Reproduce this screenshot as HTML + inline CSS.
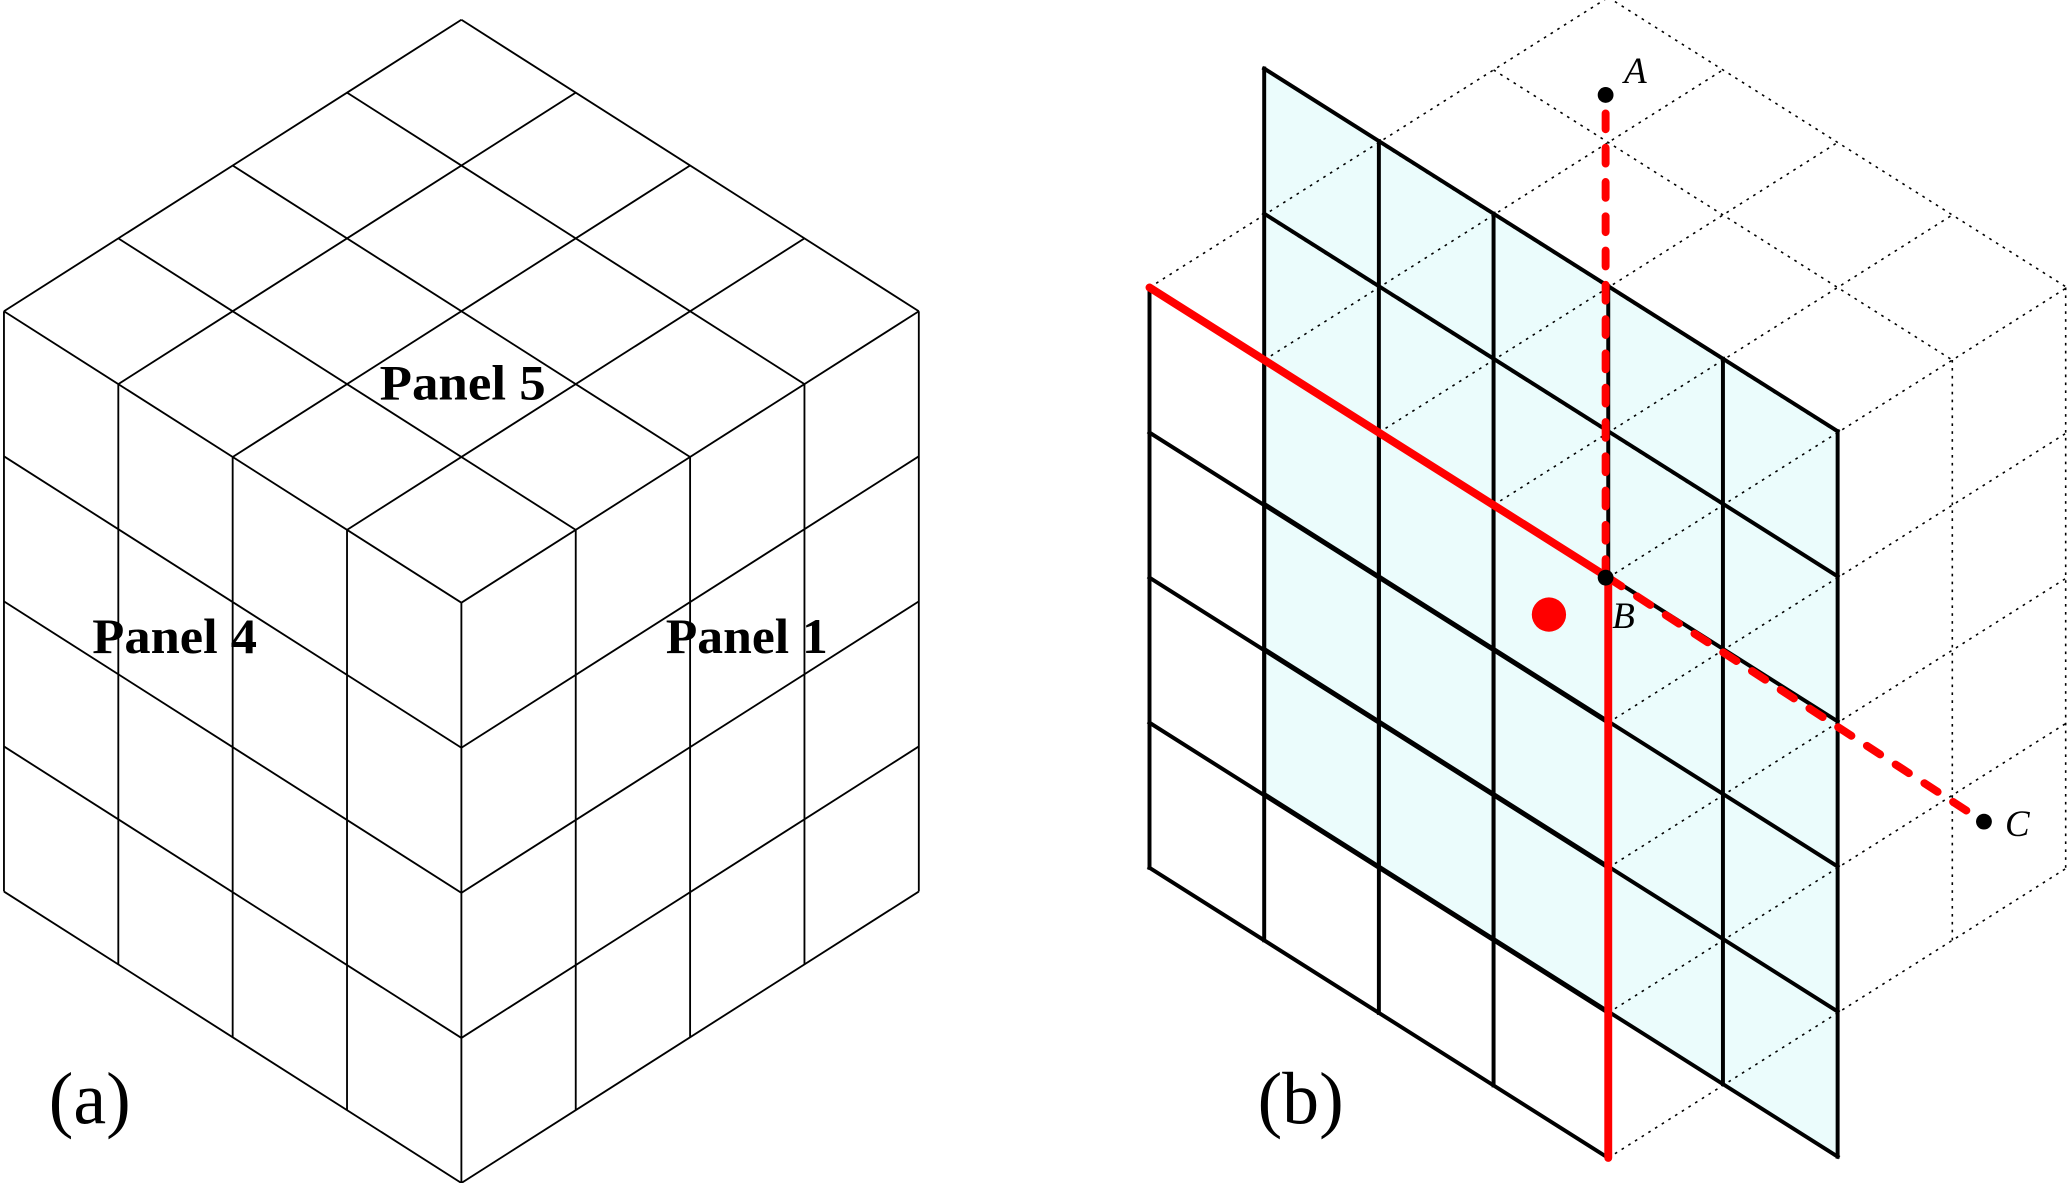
<!DOCTYPE html>
<html><head><meta charset="utf-8"><style>html,body{margin:0;padding:0;background:#fff}svg{display:block}</style></head>
<body>
<svg width="2067" height="1183" viewBox="0 0 1568 897" preserveAspectRatio="none" xmlns="http://www.w3.org/2000/svg">
<g stroke="#000" stroke-width="1.4" fill="none">
<line x1="3" y1="236" x2="350" y2="15"/>
<line x1="89.75" y1="291.25" x2="436.75" y2="70.25"/>
<line x1="176.5" y1="346.5" x2="523.5" y2="125.5"/>
<line x1="263.25" y1="401.75" x2="610.25" y2="180.75"/>
<line x1="350" y1="457" x2="697" y2="236"/>
<line x1="3" y1="236" x2="350" y2="457"/>
<line x1="89.75" y1="180.75" x2="436.75" y2="401.75"/>
<line x1="176.5" y1="125.5" x2="523.5" y2="346.5"/>
<line x1="263.25" y1="70.25" x2="610.25" y2="291.25"/>
<line x1="350" y1="15" x2="697" y2="236"/>
<line x1="3" y1="236" x2="3" y2="676"/>
<line x1="89.75" y1="291.25" x2="89.75" y2="731.25"/>
<line x1="176.5" y1="346.5" x2="176.5" y2="786.5"/>
<line x1="263.25" y1="401.75" x2="263.25" y2="841.75"/>
<line x1="350" y1="457" x2="350" y2="897"/>
<line x1="3" y1="346" x2="350" y2="567"/>
<line x1="3" y1="456" x2="350" y2="677"/>
<line x1="3" y1="566" x2="350" y2="787"/>
<line x1="3" y1="676" x2="350" y2="897"/>
<line x1="436.75" y1="401.75" x2="436.75" y2="841.75"/>
<line x1="523.5" y1="346.5" x2="523.5" y2="786.5"/>
<line x1="610.25" y1="291.25" x2="610.25" y2="731.25"/>
<line x1="697" y1="236" x2="697" y2="676"/>
<line x1="350" y1="567" x2="697" y2="346"/>
<line x1="350" y1="677" x2="697" y2="456"/>
<line x1="350" y1="787" x2="697" y2="566"/>
<line x1="350" y1="897" x2="697" y2="676"/>
</g>
<g font-family="Liberation Serif, serif" font-weight="bold" font-size="38" fill="#000">
<text x="288" y="303" textLength="126" lengthAdjust="spacingAndGlyphs">Panel 5</text>
<text x="70" y="495" textLength="125" lengthAdjust="spacingAndGlyphs">Panel 4</text>
<text x="505" y="495" textLength="123" lengthAdjust="spacingAndGlyphs">Panel 1</text>
</g>
<g font-family="Liberation Serif, serif" font-size="56" fill="#000">
<text x="37" y="852">(a)</text>
<text x="954" y="852">(b)</text>
</g>

<polygon points="959,52 1394,327 1394,877 959,602" fill="#ebfcfc"/>
<g stroke="#000" stroke-width="1.2" stroke-dasharray="2,4" fill="none">
<line x1="959" y1="163" x2="1307" y2="383"/>
<line x1="1046" y1="108" x2="1394" y2="328"/>
<line x1="1133" y1="53" x2="1481" y2="273"/>
<line x1="1220" y1="-2" x2="1568" y2="218"/>
<line x1="872" y1="218" x2="1220" y2="-2"/>
<line x1="959" y1="273" x2="1307" y2="53"/>
<line x1="1046" y1="328" x2="1394" y2="108"/>
<line x1="1133" y1="383" x2="1481" y2="163"/>
<line x1="1220" y1="438" x2="1568" y2="218"/>
<line x1="1220" y1="548" x2="1568" y2="328"/>
<line x1="1220" y1="658" x2="1568" y2="438"/>
<line x1="1220" y1="768" x2="1568" y2="548"/>
<line x1="1220" y1="878" x2="1568" y2="658"/>
<line x1="1481" y1="273" x2="1481" y2="713"/>
<line x1="1567" y1="218" x2="1567" y2="658"/>
</g>
<g stroke="#000" stroke-width="3" fill="none" stroke-linecap="square">
<line x1="959" y1="52" x2="959" y2="602"/>
<line x1="1046" y1="107" x2="1046" y2="657"/>
<line x1="1133" y1="162" x2="1133" y2="712"/>
<line x1="1220" y1="217" x2="1220" y2="767"/>
<line x1="1307" y1="272" x2="1307" y2="822"/>
<line x1="1394" y1="327" x2="1394" y2="877"/>
<line x1="959" y1="52" x2="1394" y2="327"/>
<line x1="959" y1="162" x2="1394" y2="437"/>
<line x1="959" y1="272" x2="1394" y2="547"/>
<line x1="959" y1="382" x2="1394" y2="657"/>
<line x1="959" y1="492" x2="1394" y2="767"/>
<line x1="959" y1="602" x2="1394" y2="877"/>
<line x1="872" y1="218" x2="872" y2="658"/>
<line x1="959" y1="273" x2="959" y2="713"/>
<line x1="1046" y1="328" x2="1046" y2="768"/>
<line x1="1133" y1="383" x2="1133" y2="823"/>
<line x1="872" y1="328" x2="1220" y2="548"/>
<line x1="872" y1="438" x2="1220" y2="658"/>
<line x1="872" y1="548" x2="1220" y2="768"/>
<line x1="872" y1="658" x2="1220" y2="878"/>
</g>
<g stroke="#f00" stroke-width="6" stroke-linecap="round" fill="none">
<line x1="872" y1="218" x2="1220" y2="438"/>
<line x1="1220" y1="438" x2="1220" y2="878"/>
<line x1="1218" y1="86" x2="1218" y2="438" stroke-dasharray="12,14"/>
<line x1="1220" y1="438" x2="1500" y2="620" stroke-dasharray="12,14"/>
</g>
<circle cx="1175" cy="466" r="13" fill="#f00"/>
<circle cx="1218" cy="72" r="6" fill="#000"/>
<circle cx="1218" cy="438" r="6" fill="#000"/>
<circle cx="1505" cy="623" r="6" fill="#000"/>
<g font-family="Liberation Serif, serif" font-style="italic" font-size="28" fill="#000">
<text x="1232" y="63">A</text>
<text x="1223" y="476">B</text>
<text x="1521" y="634">C</text>
</g>
</svg>
</body></html>
